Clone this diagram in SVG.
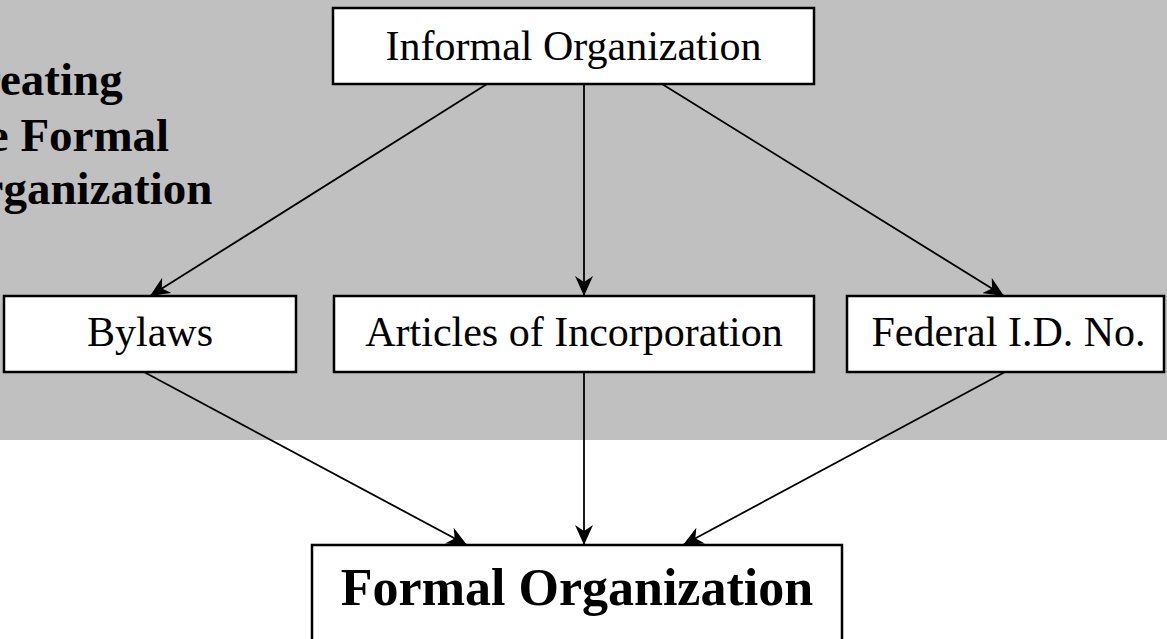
<svg xmlns="http://www.w3.org/2000/svg" width="1167" height="639" viewBox="0 0 1167 639">
<defs>
<style>
.box{fill:#fff;stroke:#000;stroke-width:2.5}
.lbl{font-family:"Liberation Serif","Times New Roman",serif;font-size:42px;fill:#000;text-anchor:middle}
.ttl{font-family:"Liberation Serif","Times New Roman",serif;font-size:47px;font-weight:bold;fill:#000}
.big{font-family:"Liberation Serif","Times New Roman",serif;font-size:52px;font-weight:bold;fill:#000;text-anchor:middle}
.con{stroke:#000;stroke-width:1.8;fill:none;marker-end:url(#ah)}
</style>
<marker id="ah" viewBox="0 0 20 18" refX="20" refY="9" markerWidth="20" markerHeight="18" markerUnits="userSpaceOnUse" orient="auto">
<path d="M0,0 L20,9 L0,18 L6,9 Z" fill="#000"/>
</marker>
</defs>
<rect x="0" y="0" width="1167" height="440" fill="#C0C0C0"/>
<g id="title">
<text class="ttl" x="-54" y="95">Creating</text>
<text class="ttl" x="-54" y="151">the Formal</text>
<text class="ttl" x="-54" y="204">Organization</text>
</g>
<g id="connectors">
<line class="con" x1="487" y1="84" x2="150" y2="296"/>
<line class="con" x1="584" y1="84" x2="584" y2="296"/>
<line class="con" x1="662" y1="84" x2="1004" y2="296"/>
<line class="con" x1="144" y1="372" x2="467" y2="545"/>
<line class="con" x1="584" y1="372" x2="584" y2="545"/>
<line class="con" x1="1005" y1="372" x2="683" y2="545"/>
</g>
<g id="informal">
<rect class="box" x="333" y="8" width="481" height="76"/>
<text class="lbl" x="573.5" y="60">Informal Organization</text>
</g>
<g id="bylaws">
<rect class="box" x="4" y="296" width="292" height="76"/>
<text class="lbl" x="150" y="346">Bylaws</text>
</g>
<g id="articles">
<rect class="box" x="334" y="296" width="480" height="76"/>
<text class="lbl" x="574" y="346">Articles of Incorporation</text>
</g>
<g id="federal">
<rect class="box" x="847" y="296" width="317" height="76"/>
<text class="lbl" x="1008.5" y="346">Federal I.D. No.</text>
</g>
<g id="formal">
<rect class="box" x="312" y="545" width="530" height="120"/>
<text class="big" x="577" y="605">Formal Organization</text>
</g>
</svg>
